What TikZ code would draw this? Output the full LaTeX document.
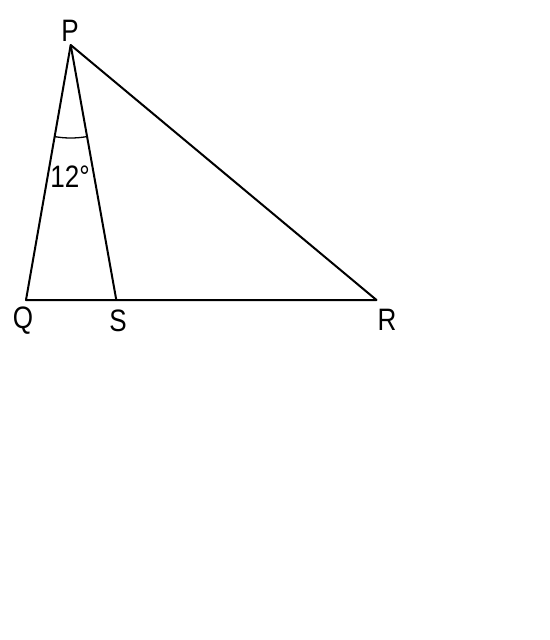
\documentclass[tikz,border=0pt]{standalone}
\usepackage{fontspec}
\setmainfont{Liberation Sans}
\usetikzlibrary{calc}
\begin{document}
\begin{tikzpicture}[x=1pt,y=-1pt,
  edge/.style={line width=2pt, line join=round},
  lbl/.style={font=\fontsize{31}{33}\selectfont, inner sep=0pt, xscale=0.84},
  anglbl/.style={font=\fontsize{31}{33}\selectfont, inner sep=0pt, xscale=0.84}]
\useasboundingbox (0,0) rectangle (549,640);
\coordinate (P) at (70.7,45);
\coordinate (Q) at (26,300);
\coordinate (S) at (116.3,300);
\coordinate (R) at (376.5,300);
\draw[edge] (P) -- (Q) -- (R) -- cycle;
\draw[edge] (P) -- (S);
\draw[line width=1.3pt] ($(P)!93pt!(Q)$) arc[start angle=-99.94, end angle=-79.93, radius=93pt];
\node[lbl] (lP) at (70,31) {P};
\node[lbl] (lQ) at (23,321) {Q};
\node[lbl] (lS) at (118,321) {S};
\node[lbl] (lR) at (387,320) {R};
\node[anglbl] (ang) at (70,177) {12°};
\end{tikzpicture}
\end{document}
